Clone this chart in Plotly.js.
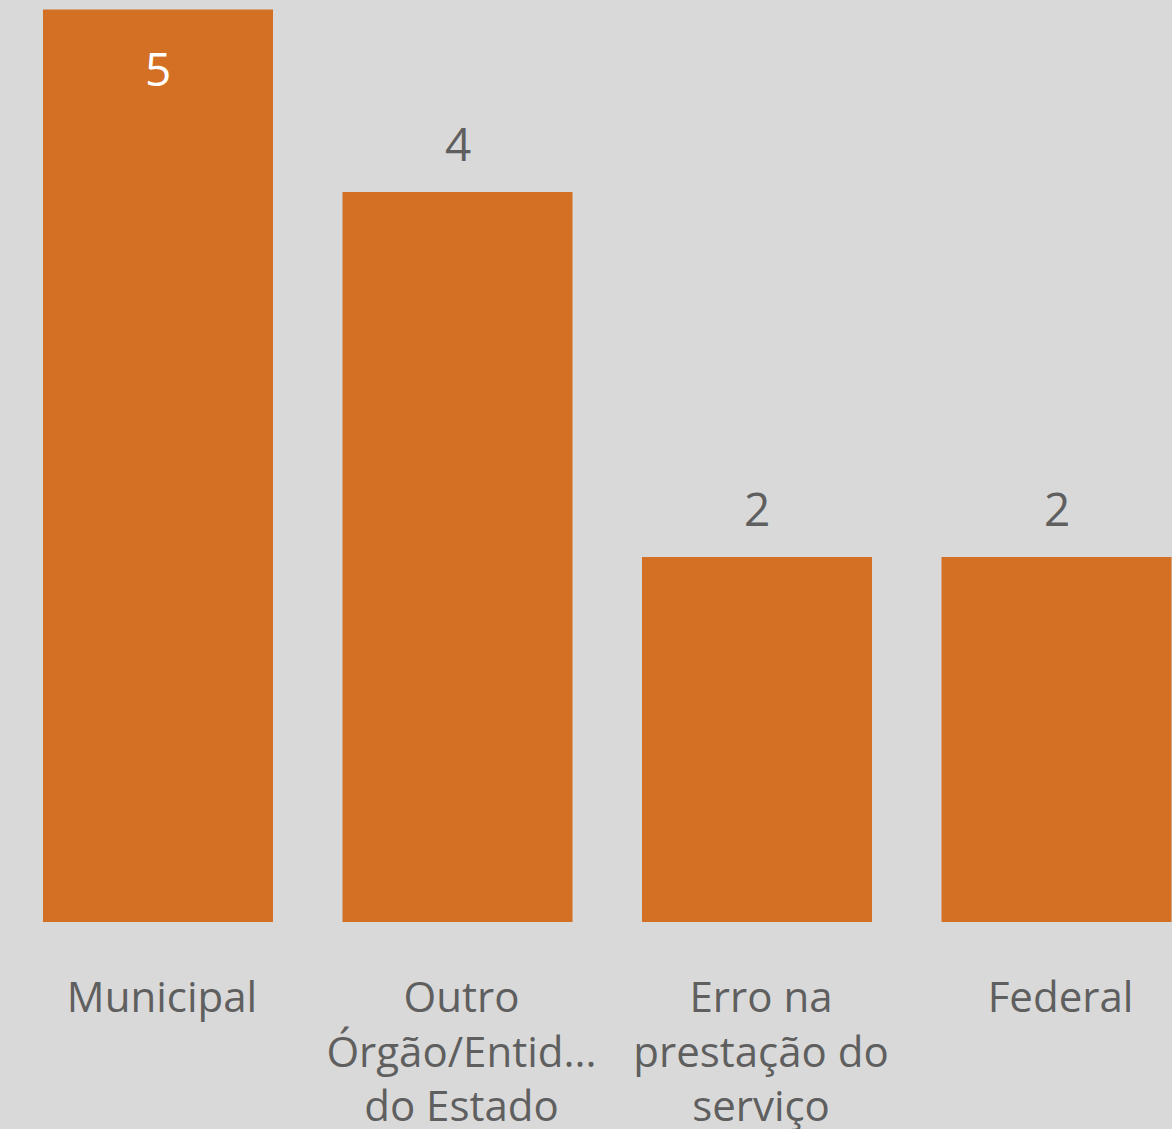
<!DOCTYPE html>
<html>
<head>
<meta charset="utf-8">
<script src="https://cdn.plot.ly/plotly-3.0.1.min.js"></script>
<style>html,body{margin:0;padding:0;background:#d9d9d9;}</style>
</head>
<body>
<div id="chart" style="width:1172px;height:1129px;"></div>
<script>
const categories = ["Municipal", "Outro Órgão/Entid... do Estado", "Erro na prestação do serviço", "Federal"];
const tickLabels = ["Municipal", "Outro<br>Órgão/Entid...<br>do Estado", "Erro na<br>prestação do<br>serviço", "Federal"];
const values = [5, 4, 2, 2];

const FONT = '"Open Sans", "Noto Sans", sans-serif';
const TEXT_COLOR = '#5f5f5f';

const annotations = values.map((v, i) => ({
  x: categories[i], y: v, xref: 'x', yref: 'y',
  text: String(v), showarrow: false,
  yshift: i === 0 ? -59 : 49,
  font: {family: FONT, size: 46, color: i === 0 ? '#ffffff' : TEXT_COLOR}
}));

const trace = {
  type: 'bar', x: categories, y: values,
  marker: {color: '#d47024'},
  width: 0.768, hoverinfo: 'none'
};

const layout = {
  width: 1172, height: 1129,
  margin: {l: 0, r: 0, t: 0, b: 207, pad: 0},
  paper_bgcolor: '#d9d9d9', plot_bgcolor: '#d9d9d9',
  showlegend: false,
  xaxis: {
    type: 'category', range: [-0.5275, 3.3856],
    tickvals: categories, ticktext: tickLabels,
    showgrid: false, zeroline: false, showline: false, ticks: '',
    tickfont: {family: FONT, size: 42, color: TEXT_COLOR},
    ticklabelshift: 4, ticklabelstandoff: 47, tickangle: 0
  },
  yaxis: {range: [0, 5.052], visible: false, showgrid: false, zeroline: false},
  annotations: annotations
};

Plotly.newPlot('chart', [trace], layout, {displayModeBar: false, staticPlot: true});
</script>
</body>
</html>
